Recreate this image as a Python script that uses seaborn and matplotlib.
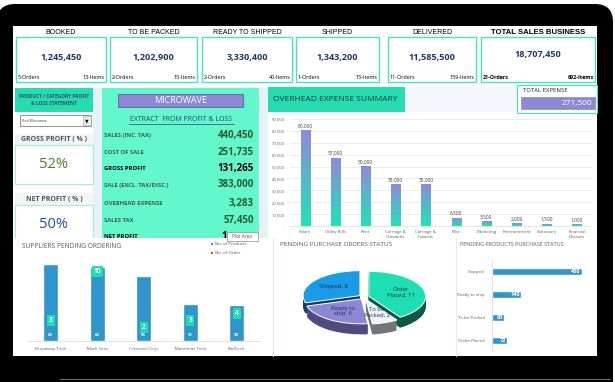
import numpy as np
import pandas as pd
import matplotlib
matplotlib.use('Agg')
import matplotlib.pyplot as plt
import seaborn as sns
from matplotlib.patches import Rectangle, FancyBboxPatch
from matplotlib.colors import LinearSegmentedColormap

# data
kpi_titles = ['BOOKED', 'TO BE PACKED', 'READY TO SHIPPED', 'SHIPPED', 'DELIVERED', 'TOTAL SALES BUSINESS']
kpi_values = [1245450, 1202900, 3330400, 1343200, 11585500, 18707450]
kpi_orders = [5, 2, 2, 1, 11, 21]
kpi_items = [13, 15, 40, 15, 159, 692]

product_name = 'MICROWAVE'
gross_profit_pct = 52
net_profit_pct = 50
pl_labels = ['SALES (INC. TAX)', 'COST OF SALE', 'GROSS PROFIT', 'SALE (EXCL. TAX/DISC.)',
             'OVERHEAD EXPENSE', 'SALES TAX']
pl_values = [440450, 251735, 131265, 383000, 3283, 57450]

total_expense = 271500
expense_cats = ['Salary', 'Utility Bills', 'Rent', 'Carriage &\nOutwards', 'Carriage &\nInwards',
                'Misc', 'Marketing', 'Entertainment', 'Stationary', 'Financial\nCharges']
expense_vals = [80000, 57000, 50000, 35000, 35000, 6500, 3500, 2000, 1500, 1000]

supplier_names = ['Broadway Tech', 'Mark Sons', 'Crescent Corp', 'Maritimas Tech', 'RadTech']
supplier_products = [65, 62, 55, 31, 30]
supplier_orders = [3, 10, 2, 3, 4]

po_status = ['Order\nPlaced', 'To be\nPacked', 'Ready to\nship', 'Shipped']
po_counts = [11, 2, 6, 8]

prod_status = ['Shipped', 'Ready to ship', 'To be Packed', 'Order Placed']
prod_counts = [430, 140, 60, 72]

# colours
teal_line = '#45E3C2'
teal_hdr = '#25DDB0'
green_panel = '#63F8CB'
lavender = '#8C89D6'
navy = '#1F3864'
blue = '#159DE6'
grey_txt = '#595959'

sns.set_style('white')
plt.rcParams['font.family'] = ['Open Sans', 'DejaVu Sans']

W, H = 615, 382
fig = plt.figure(figsize=(W / 100, H / 100), dpi=100, facecolor='white')


def px_axes(x0, y0, x1, y1):
    return fig.add_axes([x0 / W, 1 - y1 / H, (x1 - x0) / W, (y1 - y0) / H])


def overlay():
    a = px_axes(0, 0, W, H)
    a.set_xlim(0, W)
    a.set_ylim(H, 0)
    a.axis('off')
    return a


def box(a, x0, y0, x1, y1, **kw):
    a.add_patch(Rectangle((x0, y0), x1 - x0, y1 - y0, **kw))


bg = overlay()
# laptop frame + screen
bg.add_patch(FancyBboxPatch((-3, 4), 616, 395, boxstyle='round,pad=0,rounding_size=18',
                            fc='black', ec='none'))
box(bg, 13, 26, 597, 356, fc='white', ec='none')
bg.plot([60, 610], [379, 379], color='#8A8A8A', lw=0.6)

# KPI row
kpi_box = [(16, 106), (110, 197), (202, 292), (296, 379), (388, 476), (481, 595)]
for i, (x0, x1) in enumerate(kpi_box):
    box(bg, x0, 37, x1, 82, fill=False, ec=teal_line, lw=1)
    last = i == len(kpi_box) - 1
    bg.text((x0 + x1) / 2, 32, kpi_titles[i], ha='center', va='center',
            fontsize=5.6 if last else 5, fontweight='bold' if last else 'normal',
            family='Liberation Sans', color='black')
    bg.text((x0 + x1) / 2, 54 if last else 57.5, f'{kpi_values[i]:,}', ha='center', va='center',
            fontsize=6.6, fontweight='bold', color=navy)
    bg.text(x0 + 1.5, 77.5, f'{kpi_orders[i]}-Orders', ha='left', va='center', fontsize=3.9,
            fontweight='bold' if last else 'normal', color='black')
    bg.text(x1 - 1.5, 77.5, f'{kpi_items[i]}-Items', ha='right', va='center', fontsize=3.9,
            fontweight='bold' if last else 'normal', color='black')

# left panel
box(bg, 93, 88, 102, 238, fc='#E7F1F8', ec='none')
box(bg, 15, 88, 93, 112, fc=teal_hdr, ec='none')
bg.text(54, 100, 'PRODUCT / CATEGORY PROFIT\n& LOSS STATEMENT', ha='center', va='center',
        fontsize=3.5, fontweight='bold', color='#2F4F6F', linespacing=1.5)
box(bg, 20, 115, 91, 126, fc='white', ec='#808080', lw=0.6)
bg.text(22, 120.5, 'Prod-Microwave', ha='left', va='center', fontsize=2.4, color='#333333')
box(bg, 83, 116, 90.5, 125, fc='#EDEDED', ec='#999999', lw=0.4)
bg.text(86.8, 120.8, '\u25BC', ha='center', va='center', fontsize=3.3, color='black')
box(bg, 15, 134, 93, 146, fc='#F4F4F4', ec='none')
bg.text(54, 140, 'GROSS PROFIT ( % )', ha='center', va='center', fontsize=5, fontweight='bold',
        color='#44546A')
box(bg, 15, 145, 93, 184, fc='white', ec='#9FF0DC', lw=0.8)
bg.text(54, 165, f'{gross_profit_pct}%', ha='center', va='center', fontsize=10.5,
        color='#4F7A28')
box(bg, 15, 193, 93, 205, fc='#F4F4F4', ec='none')
bg.text(54, 199, 'NET PROFIT ( % )', ha='center', va='center', fontsize=5, fontweight='bold',
        color='#44546A')
box(bg, 15, 205, 93, 240, fc='white', ec='#9FF0DC', lw=0.8)
bg.text(54, 225, f'{net_profit_pct}%', ha='center', va='center', fontsize=10.5,
        color='#1F4E9A')

# green P&L panel
box(bg, 102, 88, 259, 238, fc=green_panel, ec='none')
box(bg, 118, 93.5, 243, 107, fc=lavender, ec='#6E6E9E', lw=0.8)
bg.text(180.5, 100.3, product_name, ha='center', va='center', fontsize=6.5, color='white')
bg.text(181, 119.5, 'EXTRACT  FROM PROFIT & LOSS', ha='center', va='center', fontsize=5,
        color='#2E3F7A')
bg.plot([129, 234], [124.3, 124.3], color='#2E3F7A', lw=0.5)
row_y = [135.7, 152.3, 168.3, 185, 203.3, 221]
for lab, val, y in zip(pl_labels, pl_values, row_y):
    gp = lab == 'GROSS PROFIT'
    bg.text(104, y, lab, ha='left', va='center', fontsize=4.2, fontweight='bold',
            color='black' if gp else '#3C5A46')
    bg.text(254, y, f'{val:,}', ha='right', va='center', fontsize=7, fontweight='bold',
            color='black' if gp else '#2E5A2E')
bg.text(104, 236.5, 'NET PROFIT', ha='left', va='center', fontsize=4.2, fontweight='bold',
        color='black')
bg.text(226.5, 236.5, '1', ha='right', va='center', fontsize=7, fontweight='bold', color='black')

# overhead header + total expense
box(bg, 259, 88, 268, 238, fc='#E7F1F8', ec='none')
box(bg, 268, 87, 405, 112, fc=teal_hdr, ec='none')
box(bg, 405, 87, 516, 112, fc='#F3F7FB', ec='none')
bg.text(273, 99.5, 'OVERHEAD EXPENSE SUMMARY', ha='left', va='center', fontsize=6,
        color='#1E3535')
box(bg, 517, 85, 597, 113, fill=False, ec=teal_line, lw=0.8)
bg.text(523, 91, 'TOTAL EXPENSE', ha='left', va='center', fontsize=4.3, color='#222222')
box(bg, 521, 97, 595, 109, fc=lavender, ec='#8A8A9A', lw=0.5)
bg.text(592, 103, f'{total_expense:,}', ha='right', va='center', fontsize=6, color='white')

# overhead expense bar chart
ax = px_axes(290, 119, 592, 226)
exp_df = pd.DataFrame({'cat': expense_cats, 'val': expense_vals})
sns.barplot(data=exp_df, x='cat', y='val', color=lavender, width=0.3, ax=ax)
grad = LinearSegmentedColormap.from_list('g', ['#1FE3B9', '#8E8ADB'])
for p in ax.patches:
    x, w, h = p.get_x(), p.get_width(), p.get_height()
    p.set_visible(False)
    ax.imshow(np.linspace(0, 1, 100).reshape(-1, 1)[::-1], cmap=grad, aspect='auto',
              extent=[x, x + w, 0, h], zorder=2)
ax.set_xlim(-0.5, len(expense_cats) - 0.5)
ax.set_ylim(0, 90000)
ax.set_yticks(range(0, 90001, 10000))
ax.set_yticklabels(['-'] + [f'{v:,}' for v in range(10000, 90001, 10000)])
ax.yaxis.grid(True, color='#E4E4E4', lw=0.5)
ax.set_axisbelow(True)
for s in ['top', 'right', 'left']:
    ax.spines[s].set_visible(False)
ax.spines['bottom'].set_color('#D9D9D9')
ax.spines['bottom'].set_linewidth(0.5)
ax.tick_params(axis='y', labelsize=3, colors='#606060', length=0, pad=4)
ax.tick_params(axis='x', labelsize=3.1, colors='#606060', length=0, pad=3)
ax.set_xlabel('')
ax.set_ylabel('')
for i, v in enumerate(expense_vals):
    ax.text(i, v + 1800, f'{v:,}', ha='center', va='bottom', fontsize=3.5, color='#404040')

# bottom panels (drawn over the upper area)
top = overlay()
box(top, 13, 238, 597, 356, fc='white', ec='none')
top.plot([273, 273], [238, 356], color='#E3EBF2', lw=0.8)
top.plot([456, 456], [238, 356], color='#E3EBF2', lw=0.8)
box(top, 227, 232, 258, 240.5, fc='white', ec='#8C8C8C', lw=0.5)
top.text(242.5, 236.3, 'Plot Area', ha='center', va='center', fontsize=3.4, color='#555555')
top.text(22, 246, 'SUPPLIERS PENDING ORDERING', ha='left', va='center', fontsize=4.8,
         color=grey_txt)
box(top, 210.5, 242.6, 212.7, 244.8, fc=blue, ec='none')
top.text(215, 243.7, 'No. of Products', ha='left', va='center', fontsize=3.2, color=grey_txt)
box(top, 210.5, 251.8, 212.7, 254, fc='#7F6A1F', ec='none')
top.text(215, 252.9, 'No. of Order', ha='left', va='center', fontsize=3.2, color=grey_txt)
top.text(280, 245, 'PENDING PURCHASE ORDERS STATUS', ha='left', va='center', fontsize=4.6,
         color=grey_txt)
top.text(460, 244, 'PENDING PRODUCTS PURCHASE STATUS', ha='left', va='center', fontsize=4,
         color=grey_txt)

# suppliers chart
ax1 = px_axes(27.5, 258, 260, 341)
sup_df = pd.DataFrame({'name': supplier_names, 'products': supplier_products,
                       'orders': supplier_orders})
sns.barplot(data=sup_df, x='name', y='products', color=blue, width=0.32, ax=ax1)
ax1.set_ylim(0, 70)
ax1.set_yticks([])
for s in ['top', 'right', 'left']:
    ax1.spines[s].set_visible(False)
ax1.spines['bottom'].set_color('#D9D9D9')
ax1.spines['bottom'].set_linewidth(0.6)
ax1.tick_params(axis='x', labelsize=3.2, colors='#606060', length=0, pad=4)
ax1.set_xlabel('')
ax1.set_ylabel('')
ax1.patch.set_alpha(0)
for i, v in enumerate(supplier_products):
    ax1.text(i, 5, str(v), ha='center', va='center', fontsize=3.2, color='white',
             fontweight='bold')
ax2 = ax1.twinx()
ax2.set_ylim(0, 11.86)
ax2.axis('off')
for i, v in enumerate(supplier_orders):
    ax2.text(i, v, str(v), ha='center', va='center', fontsize=4.8, color='white',
             fontweight='bold',
             bbox=dict(boxstyle='square,pad=0.3', fc='#1FDDB0', ec='none'))

# 3D-looking exploded pie
pax = px_axes(293, 262, 435, 348)
top_cols = ['#1DDFB4', '#EEF1F5', '#8B88D4', '#1A9BE5']
side_cols = ['#0A5A45', '#727579', '#4E4C7E', '#123F5F']
explode = [0.09] * len(po_counts)
for d in np.linspace(0.42, 0.02, 14):
    pax.pie(po_counts, colors=side_cols, explode=explode, startangle=90, counterclock=False,
            center=(0, -d), wedgeprops=dict(lw=0))
pie_labels = [f'{s}, {c}' for s, c in zip(po_status, po_counts)]
pax.pie(po_counts, colors=top_cols, explode=explode, startangle=90, counterclock=False,
        labels=pie_labels, labeldistance=0.58,
        textprops=dict(fontsize=4.2, color='#1F2D50', ha='center', va='center'),
        wedgeprops=dict(lw=0.7, ec='white'))
pax.set_aspect('auto')
pax.set_xlim(-1.25, 1.25)
pax.set_ylim(-2.04, 1.4)
pax.axis('off')

# products purchase status
ax3 = px_axes(491.7, 260.6, 592, 351.4)
prod_df = pd.DataFrame({'status': prod_status, 'count': prod_counts})
sns.barplot(data=prod_df, x='count', y='status', orient='h', color=blue, width=0.31, ax=ax3)
ax3.set_xlim(0, 480)
ax3.set_xticks([])
for s in ['top', 'right', 'bottom']:
    ax3.spines[s].set_visible(False)
ax3.spines['left'].set_color('#D9D9D9')
ax3.spines['left'].set_linewidth(0.6)
ax3.tick_params(axis='y', labelsize=3.2, colors='#606060', length=0, pad=5)
ax3.set_xlabel('')
ax3.set_ylabel('')
ax3.patch.set_alpha(0)
for i, v in enumerate(prod_counts):
    ax3.text(v - 4, i, str(v), ha='right', va='center', fontsize=4, color='white',
             fontweight='bold')

fig.savefig('out.png', dpi=100, facecolor='white')
